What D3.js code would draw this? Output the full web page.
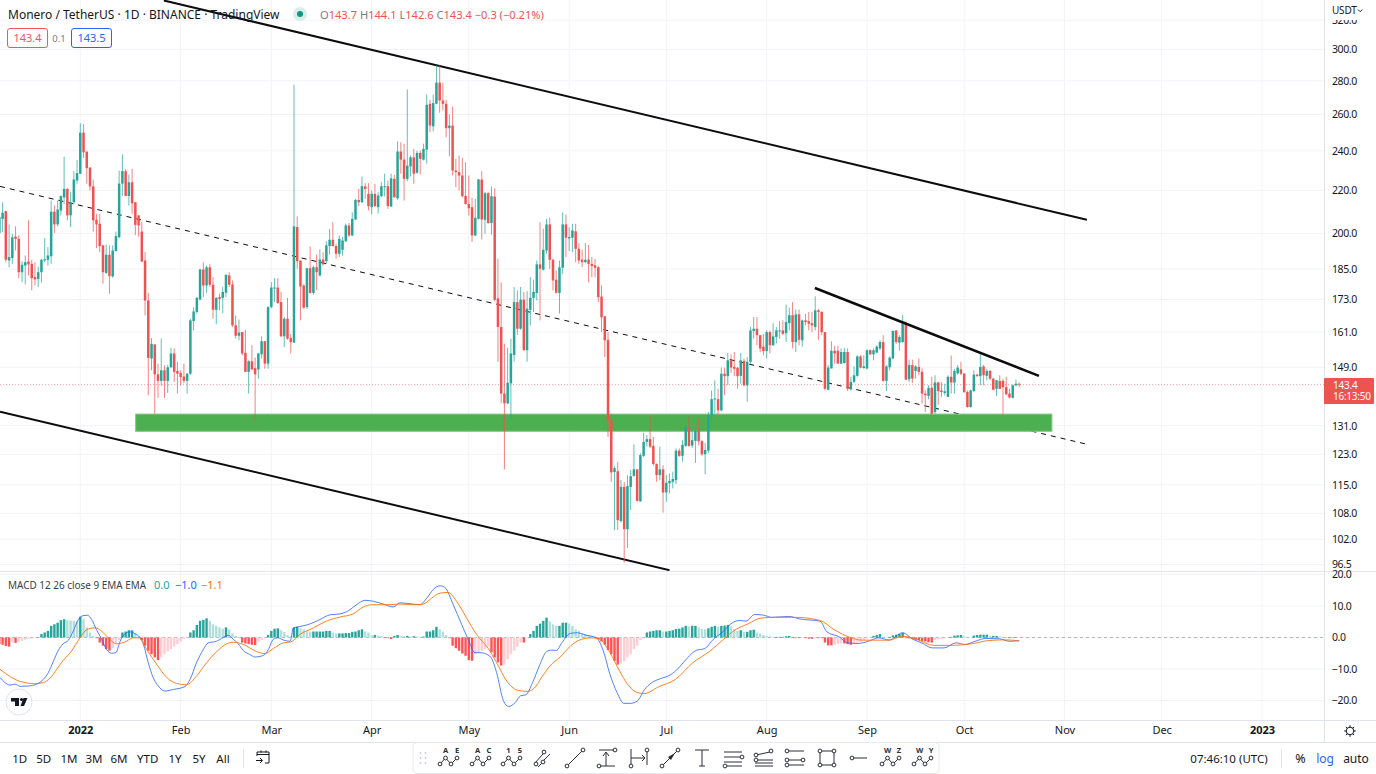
<!DOCTYPE html>
<html><head><meta charset="utf-8">
<script src="https://cdn.jsdelivr.net/npm/d3@7/dist/d3.min.js"></script>
<style>html,body{margin:0;padding:0;background:#fff;overflow:hidden}svg{display:block;font-family:"Noto Sans",sans-serif}</style>
</head><body><div id="chart"></div>
<script>
const opens=[200.2,206.6,210.1,188.5,189.5,198.7,197.7,183.7,186.4,188.1,
187.1,181.7,181,183.7,188.5,188.8,190.3,209.9,204.1,210.4,
216.6,220.7,208.2,214.3,224.8,228.2,249.8,239.6,231.3,221.9,
206.2,204.4,194.9,183.4,190.9,182,192.4,198.4,223.3,229.5,
217.3,223.9,214.3,208.2,200.9,188.5,172.6,151.9,156.7,146.7,
144.6,148,144.6,149,153.6,147.8,147.1,146,144.6,146.9,
165,168.3,173,184.8,178.4,185.7,178.7,169.1,173.9,173.6,
175.6,182.4,178.8,163.4,159.7,161,153.8,147.5,151,148.7,
148.3,153.3,157.8,150.2,170.1,177.2,177.6,172,159.5,165.8,
158.9,157.3,202.9,188.5,178.4,170.1,185.3,175.5,185.7,182.4,
188.9,188.2,194.6,197.3,194.6,191.3,193,196.7,203.6,199.2,
206.3,215.4,214.3,221.9,218.3,212,218.3,212,217.2,221.9,
222,212.3,225.6,216.2,239.6,235.4,225.6,231.9,236.6,228.7,
238.9,235.4,240.6,266.2,253.3,266.2,278.9,268.1,266.2,252.3,
253.7,229.8,229,227.3,217.3,213.5,212,199.2,206.6,225.3,
206.2,218.6,204.7,217,173.4,162.8,140.6,137.6,143.8,153.1,
172,162.2,172.9,154.7,169.1,173.6,175.5,186.9,184.7,192.7,
204.1,188.8,180.7,175.5,185.5,204.1,197.9,198.2,201,193.4,
188.9,187.8,188.9,187.1,186.5,185.7,174.1,166.7,158.3,132.6,
118.3,118.5,106.2,114.5,104.3,114.5,117.3,119,110.9,122.6,
126.4,127.2,125.3,120.4,117.5,119,113.1,115.4,115.8,116.2,
124,122.6,125.3,130.6,125.4,126.7,129.5,126.6,123,124,
134.1,138.8,138.9,135.5,146.9,146.1,151.3,149.1,148.8,146.2,
151.1,143.2,150.8,161.4,162.2,159.9,155.9,154.4,161,156.4,
159.3,161.4,161.6,160.6,164.2,167.1,157.5,167.4,158.1,165.2,
164.9,164.2,162.8,168.9,168.3,161,141.8,148.6,154.5,154.5,
150.2,150.4,154.1,141.9,144.3,146.2,152.6,148.7,148.6,154.7,
153.3,153.9,155.3,157.5,144.6,149,151.9,161.6,157.3,157.5,
164.2,145.1,149.7,147.8,149.1,147.5,140.6,139.9,142.4,135,
144.1,141.6,140.8,139.6,145.9,144.1,147,148.3,146.9,141.1,
136.5,141.4,146.6,146.1,149.3,146.2,147.8,145.3,142.1,144.6,
144.6,142.6,140.6,139.3,143.2,143.7];
const highs=[208.2,214.3,210.4,204.1,199.9,203.2,199.2,188.1,190.6,205.9,
188.8,187.8,186,189.2,198,194.1,215.1,212.7,215.1,217.6,
236.9,221.2,219.1,229.5,235.2,255,254.6,239.6,231.5,225.3,
208.9,208.9,194.9,195.2,194.9,194.9,200.9,229.8,238.2,230.6,
227.8,230.6,214.3,208.2,205.4,192,175.5,158.9,156.7,150.2,
158.7,149.6,149.8,155.5,155.3,150.8,148,150.2,147.1,165.8,
170.1,173.9,185.1,187.8,186.4,187.1,181.7,173.9,175.2,177.8,
183,183.7,180.4,167,165.5,161,161.8,151.3,156.4,152.2,
153.8,159.5,157.9,170.5,179.7,181.3,181.3,175.9,166.4,173.6,
160.4,277.6,207.7,188.5,178.8,185.3,194.4,186.4,191,193.1,
192,196.7,202.1,205.1,195.6,199.2,198.5,204.4,204.7,209.6,
215.9,220.7,226.8,223.5,223.5,219.9,223.2,219.1,224,228.2,
224.8,228.2,227.6,245,244.6,243.8,274.7,237.5,241,240.1,
240.1,243.8,271.7,268.5,271.7,289.8,289.6,278.8,268.5,260,
264.6,235.8,237.5,236.3,234,227.3,216.4,215.9,225.6,229.5,
219.1,219.1,221.9,221,189.2,179.6,156.9,155.6,158.7,177.8,
176.5,177.8,175.9,176.2,181.7,180.7,188.5,205.1,202.2,206.6,
207.1,189.2,184.4,188.5,209.6,208.6,202.9,204.4,204.4,195.9,
193,195.9,195.1,189.9,189.2,186.2,178.5,166.7,161,134.5,
119.8,121,116.2,115.7,117.5,118.8,125.7,119,123.3,129,
128.3,134.1,127.8,120.6,125.1,120.1,117.5,117.9,118.4,124.6,
124.6,126.9,131.1,133.8,129.7,130.2,133.1,126.9,126.1,135,
141.6,144.8,142.1,148.9,148.9,153.8,153.3,154.1,149.1,153.8,
151.9,152.4,162.8,166.4,166.4,159.9,160.4,161.6,161.6,164.2,
162.8,165,165.2,171.1,169.9,172,169.2,169.2,165.5,167.6,
168.3,168.3,174.2,169.5,168.6,161,149.7,157.7,156.1,156.1,
155.3,155.5,155.3,145.9,149.3,153,153,153,155,155,
155.3,156.4,158.1,159.9,149.7,152.6,161.6,161.6,159.9,167.1,
165,151.5,151.5,149.7,151.9,148.6,141.6,143.2,145.9,146.4,
144.3,144.3,143.7,146.4,152.9,148.5,149.7,150.8,147.1,141.6,
141.8,148,146.9,153.6,149.7,148.5,148.2,145.6,144.8,146.4,
145.3,145.9,142.1,143.5,145,144.1];
const lows=[198.4,200.7,187.8,185.7,187.1,192.7,181.3,179.7,178.8,182.4,
176.5,178.4,177.8,179.5,187.8,186.4,187.1,200.2,203.2,208.2,
213.5,205.9,202.9,213.2,223.2,228.2,236.3,223.2,219.9,200.9,
193.7,192,179.1,183,175.2,181.5,192.4,198,217.3,217.2,
212.7,208.9,199.4,198.7,187.8,167,140.1,148,134.5,139.3,
143,139.3,140.8,148.7,144.3,140.6,143.2,143.8,140.6,146.5,
161.6,167.7,172.6,173.9,175.5,177.8,165.8,163.8,168.9,167.9,
173.9,177.8,162.8,158.7,158.1,153,147.5,140.6,148,132.1,
145.3,151.9,148.5,148.5,169.7,172,171.4,159.3,155.8,158.3,
153.6,157.2,185.1,165.2,169.5,169.5,175.2,174.8,176.5,182,
186.4,187.1,191,194.4,189.2,189.9,190.6,196.3,198.5,198.9,
206.2,212.5,214,215.9,210.4,208.6,212,209,216.7,217,
211.2,212,216.4,215.4,228.2,215.1,224.5,226.8,223.2,228.2,
227.9,234.9,233.3,250,250.5,265.8,261,262.3,247.3,237.1,
227.3,221.6,219.9,216.7,213.2,208.2,196.3,198.9,206.3,197.4,
199.9,204.4,199.6,172.3,150.8,137.6,119,137.4,133.1,150.8,
160,161.8,154.5,150.8,163.4,168.3,172.6,165.2,184.4,191.3,
185.1,176.5,175.2,167.7,183,189.9,192.4,192,187.8,187.1,
185.7,187.5,179.7,181.7,181.7,172,161,152.4,127.8,115.8,
104.1,104.1,105.8,96.9,100.1,108.8,117.1,110.8,110.8,122.3,
125.1,124.7,120,115.8,116.2,108.2,110.8,112.9,114.1,115.2,
122.3,121,125.1,125.1,124.7,120.7,125.5,122.6,117.7,123.3,
132.1,134.5,134.1,135.2,140.1,143.2,147.1,146.1,142.1,143.7,
142.9,138.1,150.2,158.7,156.4,154.1,153,151.9,153.6,156.2,
157,158.7,159.9,157.5,161.6,155.3,154.1,156.4,155.9,163.4,
161.6,161,161.6,158.3,159.9,141.6,141.6,148.6,150.2,150.2,
150,150.2,141.4,141.6,143.9,145.9,148.6,148.6,148.3,153,
151.3,153.6,154.7,144.3,141.4,148,151.6,156.9,154.5,157.3,
144.8,144.3,143.9,145.3,146.4,137.6,135,138.8,133.8,134.5,
137.1,139.6,140.1,139.6,140.6,140.6,146.6,146.4,140.8,136.3,
136.3,141.1,145.8,143.2,143.2,144.8,144.8,141.6,139.9,142.1,
134.5,140.1,139.1,139.1,142.9,142.6];
const closes=[207.4,209.4,188.8,189.9,198.4,197.7,183.7,186.7,187.8,186.9,
181.3,180.8,183.7,188.8,189,190.6,209.9,204.1,210.9,217.2,
220.7,208.2,214.3,225.3,228.5,249.8,239.2,231,221.9,205.9,
204.1,194.6,183.7,190.9,182.1,192.7,198.9,223.3,229.5,217.3,
223.9,213.8,203.9,203.6,188.1,172.6,152.1,156.9,146.7,144.6,
148,144.6,149,153.6,147.5,146.9,145.8,144.6,146.9,165.2,
168.5,173.6,184.8,178.4,185.7,178.7,169.1,173.6,173.2,175.9,
182.6,178.7,163.4,159.7,160.8,153.6,147.5,151,148.3,146.7,
153.6,157.8,150.2,170.1,177.6,177.6,171.6,159.5,165.8,158.7,
157.5,203.2,188.2,178,169.9,185.3,175.5,185.7,183.7,188.9,
186.9,194.9,197.3,194.6,191.3,197.7,197,203.6,199.2,206.6,
215.4,214.3,222,220.7,212.5,218.3,212.5,217.5,222,222,
212.5,225.9,216.7,239.6,235.4,225.6,232.3,236.6,228.2,238.9,
235.8,241,265.6,253.7,266.6,278.9,268.1,266.2,252.3,253.7,
229.8,229,227.3,217.2,213.5,211.5,199.2,207.1,225.3,206.3,
218.6,204.7,217.2,172.9,162.8,140.6,137.6,144,153.6,172,
162.2,172.9,154.7,169.5,173.6,175.9,186.9,185.1,193,204.1,
188.8,180.4,175.6,185.7,204.1,198.2,198.5,201.4,193.4,188.5,
187.8,188.8,187.1,186.2,185.5,173.9,166.3,158.1,132.6,118.2,
119.3,106.4,114.5,104.3,114.7,117.2,119,111,122.8,126.4,
127.2,125.1,120.4,117.5,119,113.1,115.5,116,116.5,124,
122.6,125.6,130.6,125.3,126.9,129.5,126.6,123,124.2,134.1,
138.9,139.1,135.5,146.9,146.1,151.3,148.9,148.5,146.1,151.3,
143.2,150.8,161.6,162.2,159.9,155.3,154.4,161,156.4,159.5,
161.6,161.6,160.4,164.6,167.1,157.5,167.4,158.3,165.2,164.6,
164,163.4,168.9,168.3,161,142.1,148.9,154.5,153.6,150.2,
154.1,154.1,142.1,144.3,146.4,152.6,148.9,149.3,154.7,153.3,
154.7,155.9,157.5,144.6,149.3,152.2,161.4,157.5,159.3,164.2,
145,149.7,145.3,149.3,147.5,140.6,140.1,142.4,134.5,144.1,
141.4,141.1,141.3,145.9,144.1,147.8,148.9,146.9,141.1,136.5,
141.6,146.6,146.2,149.1,146.4,147.8,145.3,141.8,144.8,142.1,
142.6,140.4,139.4,143.2,143.7,143.4];
const histogram=[-2.1,-2.3,-2.7,-2.9,-1.5,-1.7,-1.3,-1.1,-0.7,-0.5,
-0.4,-0.2,0.1,1.1,1.6,2.1,3.7,4.2,4.7,5.5,
5.8,5.5,5.4,5.3,5.2,6.6,5.8,3.2,1.6,0.5,
-0.2,-1.6,-2.6,-3.7,-4.2,-3.4,-1.9,-0.8,1.6,1.9,
2.3,2.3,1.3,0.3,-0.8,-2.6,-4.2,-5.3,-6.3,-7.2,
-6.3,-5.3,-4.4,-3.7,-2.9,-2.1,-1.3,-0.5,-0.2,1.6,
2.3,4,5.3,5.6,6.1,5.3,4.2,3.7,3.2,2.8,
3.2,2.6,1.3,0.5,-0.1,-1.6,-1.9,-2.1,-2.3,-2.4,
-1.3,-0.8,-0.3,0.8,2.1,2.8,2.9,2.3,1.8,0.8,
0.3,3.2,3.4,2.9,2.6,2.1,1.9,1.9,1.9,1.9,
1.9,2.1,2.1,1.6,1.3,1.3,1.3,1.4,1.4,1.8,
1.9,2.3,2.6,1.9,1.6,0.8,0.8,0.6,0.5,-0.2,
-0.2,-0.5,0.5,0.8,0.5,0.4,0.5,0.3,0.4,0.3,
0.2,0.3,1.9,1.9,2.3,3.4,2.6,1.9,0.8,-0.2,
-2.6,-3.4,-4.2,-5.1,-5.8,-7.2,-7.4,-5.3,-4.7,-4.2,
-3.7,-2.9,-4.7,-6.3,-7.9,-8.9,-8.6,-6.9,-5.3,-4.2,
-3,-1.6,-1.6,-0.2,1.1,2.1,3.7,4.4,5.3,6.3,
5.1,4.2,3.7,3.7,4.7,4.7,4.4,3.7,2.6,2.1,
1.3,1.1,0.8,0.5,0.3,-0.5,-1.3,-2.3,-4,-5.3,
-7.4,-8.6,-8.2,-7.6,-6.3,-5.3,-3.7,-2.6,-0.8,-0.1,
1.6,1.9,2.1,2.3,2.3,1.9,1.9,2.1,2.3,2.7,
2.8,3.2,3.7,3.5,3.7,3.7,3.2,2.7,2.6,2.9,
3.4,3.7,3.5,3.7,3.8,4,3.5,2.6,2.1,2.3,
1.8,1.8,2.3,2.5,1.6,1.3,0.8,0.5,0.4,0.2,
0.2,0.2,0.2,0.4,0.5,-0.2,-0.2,-0.2,-0.1,-0.2,
-0.4,-0.4,-0.1,-0.2,-0.2,-1.6,-2.5,-2.5,-2.3,-2.1,
-1.9,-1.9,-2.1,-2.3,-1.8,-1.6,-1.5,-0.8,-0.3,-0.2,
0.5,0.8,1.1,0.2,0.1,0.2,0.7,0.9,1.1,1.5,
-0.2,-0.3,-0.4,-0.7,-0.8,-1.1,-1.3,-1.5,-1.6,-0.8,
-0.6,-0.5,-0.3,-0.1,0.2,0.6,0.7,0.8,0.5,0.2,
0.1,0.6,0.8,0.9,0.9,0.9,0.5,0.5,0.5,0.3,
0.2,-0.1,-0.2,-0.2,0.1,0];
const macdDays=[-24.8,-23.3,-21.7,-20.2,-18.6,-16.1,-13.5,-11.4,-9.9,-8.3,-6.8,-5.3,-3.7,-2.2,-0.6,0.9,2.2,3.5,5,6.6,8.1,9.7,11,12.3,13.8,15.3,16.9,18.4,19.5,21,22.5,24.1,26.1,28.7,32.3,33.9,35.9,38,39.5,42.1,43.6,45.7,47.3,48.8,50.3,52.4,53.9,56.5,58.1,59.6,61.1,62.7,64.8,65.8,67.8,70.4,74,77.1,80.2,82.8,85.3,87.9,90.5,93.6,96.7,98.7,101.3,104.9,107,109,111.1,112.6,115.2,117.8,119.8,121.9,123.4,126.5,128.6,130.7,132.3,134.4,136,137.6,139.7,141.8,144,145.6,147.1,148.7,151.4,153.5,156.2,159.4,161.5,163.6,165.8,167.9,170,172.1,174.3,176.4,179.1,182.2,184.9,187.6,190.2,192.9,195.5,198.7,200.9,203.5,205.6,208.3,211,213.6,218.9,222.1,228.5,230.6,234.4,237,240.2,243.4,246.6,249.8,254,257.2,259.9,263.1,266.8,270.5,273.2,276.4,279.6,283.8,287,290];
const macdValues=[-12.7,-14.3,-15.1,-14.8,-15.5,-15.4,-14.8,-13.3,-11.2,-7.5,-4.1,-2,-0.9,2,5.7,6.95,7.05,5.7,2.5,-0.6,-3.8,-5,-4.8,-1.2,1.2,1.8,1.2,0,-2.2,-8,-12.7,-15.4,-17,-16.5,-15.6,-13.3,-8,-3.8,-1.7,-1.2,-0.3,0.7,-0.6,-2,-4.1,-5.4,-6.2,-5.7,-3.8,-0.6,-0.1,-0.8,-1.2,3,3.5,4.1,5.7,7.2,7.5,8.5,10.4,11.8,11.5,10.6,9.7,11,10.8,10.4,12.5,15.2,16.4,15.9,10.4,4.1,-0.6,-4.8,-4.8,-5.9,-11.2,-20.1,-21.9,-20.6,-18.5,-18.2,-14.3,-9,-4.5,-4,-4.1,-1.7,1.3,1.5,0.75,-0.1,-4.1,-11.7,-17.5,-20.9,-20.9,-20.1,-16.5,-14.4,-13.1,-11.9,-9.6,-6.4,-4.1,-3.5,-0.6,2,4.3,5.4,5.2,7.3,7.1,6.4,6.7,5.9,5.2,1.8,0.2,-1.7,-1.9,-1.2,-0.1,-0.8,1.5,-0.6,-1.7,-3.3,-3.3,-1.7,-2.2,-1.2,-0.3,-0.4,-1.2,-1];
const signalDays=[-24.8,-22.7,-19.7,-16.6,-14,-11.4,-9.4,-7.3,-5.3,-2.7,-0.1,2,4.5,6.6,8.6,11.2,13.8,16.4,18.4,20.5,23.6,26.7,29.8,32.8,35.9,39,42.1,45.2,47.3,50.3,54.5,57,59.6,62.7,65,67.8,72,76,80.2,84.3,87.4,90,94.6,98.7,102.8,105.9,108.5,111.1,113.6,116.2,119.3,122.4,126,128.6,131.7,134.9,138.1,140.2,142.4,145,148.2,151.4,154.1,157.8,160.4,163.6,166.3,169,172.1,174.3,178.5,183.8,189.2,194.5,198.7,202.4,206.2,210.4,214.7,221,228.5,232.8,238.1,241.3,245.5,249.8,254,258.3,263.6,268.9,275.3,280.6,285.9,290];
const signalValues=[-10.1,-11.7,-13.5,-14.4,-14.7,-14.3,-13,-10.1,-7.3,-4.3,-0.1,2.5,3.05,2,-0.1,-2,-1.4,-0.1,-0.1,-3.8,-8.5,-12.7,-14.6,-15,-12.2,-8,-4.5,-2,-1.5,-2.2,-4.5,-5.1,-3.5,-1.7,-1.4,0.95,3.05,5.2,6.5,7.5,9.7,10.4,10.4,10.6,10.4,10.6,12.5,14.1,14.3,11.5,6.2,0.95,-3.5,-8,-13.8,-16.7,-17.1,-16.1,-12.8,-9.1,-6.2,-2.7,-0.85,-0.1,-0.6,-4.8,-10.1,-14.8,-17.5,-17.8,-15.7,-13.3,-8,-4.3,-0.6,2.5,4.3,6.2,6.4,6.4,5.4,2.5,-0.1,-0.85,-0.85,-0.85,0.4,-0.6,-2.5,-2.5,-2,-0.95,-0.75,-1.1];
const priceTicks=[320,300,280,260,240,220,200,185,173,161,149,131,123,115,108,102,96.5];
const macdTicks=[20,10,0,-10,-20];
const macdTickLabels=["20.0","10.0","0.0","\u221210.0","\u221220.0"];
const monthTicks=[[2022,0],[2022,1],[2022,2],[2022,3],[2022,4],[2022,5],[2022,6],[2022,7],[2022,8],[2022,9],[2022,10],[2022,11],[2023,0]];
const rangeLabels=["1D","5D","1M","3M","6M","YTD","1Y","5Y","All"];
const lastPrice=143.4;
// drawings: [days since 2022-01-01, price]
const upperChannel=[[25.8,334.2],[310.9,206.2]];
const lowerChannel=[[-24.8,135.1],[182,95.3]];
const midChannel=[[-24.8,221.9],[311.2,125.7]];
const wedgeLine=[[226.9,177.4],[296.1,146.2]];
const supportZone={days:[17.1,300.1],prices:[134.4,129.4]};

const W=1376,H=774,paneR=1324,paneB=571,macdB=720,axisB=742;
const GREEN="#26a69a",RED="#ef5350",TXT="#131722";
const jan1=Date.UTC(2022,0,1), DAY=864e5;
const dayDate=d=>new Date(jan1+d*DAY);
const firstCandle=new Date(Date.UTC(2021,11,7));
const x=d3.scaleUtc().domain([new Date(jan1),new Date(Date.UTC(2023,0,1))]).range([80.3,1262]);
const y=d3.scaleLog().domain([96.5,300]).range([564.5,49.5]);
const ym=d3.scaleLinear().domain([-20,20]).range([700.5,574.5]);
const svg=d3.select("#chart").append("svg").attr("width",W).attr("height",H).attr("viewBox",`0 0 ${W} ${H}`);
const defs=svg.append("defs");
defs.append("clipPath").attr("id","cp").append("rect").attr("width",paneR).attr("height",paneB);
defs.append("clipPath").attr("id","cm").append("rect").attr("y",paneB+1).attr("width",paneR).attr("height",macdB-paneB-1);
svg.append("rect").attr("width",W).attr("height",H).attr("fill","#fff");
const GRID="#f1f3f8";
const months=monthTicks.map(m=>new Date(Date.UTC(m[0],m[1],1)));
// grids
const grid=svg.append("g");
grid.selectAll("line.v").data(months).join("line").attr("x1",d=>x(d)).attr("x2",d=>x(d)).attr("y1",0).attr("y2",macdB).attr("stroke",GRID);
grid.selectAll("line.h").data(priceTicks).join("line").attr("class","h").attr("x1",0).attr("x2",paneR).attr("y1",d=>y(d)).attr("y2",d=>y(d)).attr("stroke",GRID);
grid.selectAll("line.m").data(macdTicks).join("line").attr("class","m").attr("x1",0).attr("x2",paneR).attr("y1",d=>ym(d)).attr("y2",d=>ym(d)).attr("stroke",GRID);

const pane=svg.append("g").attr("clip-path","url(#cp)");
const seg=(g,pts,w,dash)=>g.append("line").attr("x1",x(dayDate(pts[0][0]))).attr("y1",y(pts[0][1])).attr("x2",x(dayDate(pts[1][0]))).attr("y2",y(pts[1][1])).attr("stroke","#0c0c0c").attr("stroke-width",w).attr("stroke-dasharray",dash||null);
seg(pane,midChannel,1,"5,5");
pane.append("rect").attr("x",x(dayDate(supportZone.days[0]))).attr("y",y(supportZone.prices[0])).attr("width",x(dayDate(supportZone.days[1]))-x(dayDate(supportZone.days[0]))).attr("height",y(supportZone.prices[1])-y(supportZone.prices[0])).attr("fill","#4caf50").attr("stroke","#81c784").attr("stroke-width",1);
seg(pane,upperChannel,2);
seg(pane,lowerChannel,2);
// last price line
pane.append("line").attr("x1",0).attr("x2",paneR).attr("y1",y(lastPrice)).attr("y2",y(lastPrice)).attr("stroke",RED).attr("stroke-opacity",.55).attr("stroke-dasharray","1,2");
// candles
const candles=closes.map((c,i)=>({date:d3.utcDay.offset(firstCandle,i),o:opens[i],h:highs[i],l:lows[i],c}));
const cg=pane.append("g");
cg.selectAll("line").data(candles).join("line").attr("x1",d=>x(d.date)).attr("x2",d=>x(d.date)).attr("y1",d=>y(d.h)).attr("y2",d=>y(d.l)).attr("stroke",d=>d.c>=d.o?GREEN:RED).attr("stroke-width",1).attr("stroke-opacity",.72);
cg.selectAll("rect").data(candles).join("rect").attr("x",d=>x(d.date)-1.25).attr("width",2.5).attr("y",d=>y(Math.max(d.o,d.c))).attr("height",d=>Math.max(1,Math.abs(y(d.o)-y(d.c)))).attr("fill",d=>d.c>=d.o?GREEN:RED);
seg(pane,wedgeLine,2.6);

// MACD pane
const mp=svg.append("g").attr("clip-path","url(#cm)");
mp.append("line").attr("x1",0).attr("x2",paneR).attr("y1",ym(0)).attr("y2",ym(0)).attr("stroke","#b2b5be").attr("stroke-dasharray","3,3");
const hData=histogram.map((v,i)=>({date:d3.utcDay.offset(firstCandle,i),v,prev:i?histogram[i-1]:v}));
const hc=d=>d.v>=0?(d.v>=d.prev?"#26a69a":"#b2dfdb"):(d.v<=d.prev?"#ff5252":"#ffcdd2");
mp.selectAll("rect").data(hData).join("rect").attr("x",d=>x(d.date)-1.2).attr("width",2.4).attr("y",d=>Math.min(ym(d.v),ym(0))).attr("height",d=>Math.abs(ym(d.v)-ym(0))).attr("fill",hc);
const ln=d3.line().x(d=>x(dayDate(d[0]))).y(d=>ym(d[1])).curve(d3.curveMonotoneX);
mp.append("path").attr("d",ln(d3.zip(macdDays,macdValues))).attr("fill","none").attr("stroke","#2962ff").attr("stroke-opacity",.8).attr("stroke-width",1);
mp.append("path").attr("d",ln(d3.zip(signalDays,signalValues))).attr("fill","none").attr("stroke","#ff6d00").attr("stroke-opacity",.85).attr("stroke-width",1);

// structural lines
const LINE="#e0e3eb";
const rule=(x1,y1,x2,y2,c)=>svg.append("line").attr("x1",x1).attr("y1",y1).attr("x2",x2).attr("y2",y2).attr("stroke",c||LINE);
rule(0,paneB+.5,W,paneB+.5,"#e6e4f2");
rule(0,macdB+.5,W,macdB+.5);
rule(0,axisB+.5,W,axisB+.5);
rule(paneR+.5,0,paneR+.5,axisB);

// axes
const FS=10.5;
const ya=svg.append("g").attr("transform",`translate(${paneR+8},0)`).call(d3.axisRight(y).tickValues(priceTicks).tickSize(0).tickPadding(0).tickFormat(d=>d.toFixed(1)));
ya.select(".domain").remove();
ya.selectAll("text").attr("fill",TXT).attr("font-size",FS).attr("letter-spacing",-.4).attr("font-family",'"Noto Sans"');
const ma=svg.append("g").attr("transform",`translate(${paneR+8},0)`).call(d3.axisRight(ym).tickValues(macdTicks).tickSize(0).tickPadding(0).tickFormat((d,i)=>macdTickLabels[i]));
ma.select(".domain").remove();
ma.selectAll("text").attr("fill",TXT).attr("font-size",FS).attr("letter-spacing",-.4).attr("font-family",'"Noto Sans"');
const xa=svg.append("g").attr("transform",`translate(0,${macdB+4})`).call(d3.axisBottom(x).tickValues(months).tickSize(0).tickPadding(2).tickFormat(d=>d.getUTCMonth()===0?d.getUTCFullYear():d3.utcFormat("%b")(d)));
xa.select(".domain").remove();
xa.selectAll("text").attr("fill",TXT).attr("font-size",11).attr("font-family",'"Noto Sans"').attr("font-weight",d=>d.getUTCMonth()===0?700:400);

const T=(s,px,py,o={})=>svg.append("text").attr("x",px).attr("y",py).attr("fill",o.c||TXT).attr("font-size",o.fs||11).attr("text-anchor",o.a||"start").attr("font-weight",o.w||400).attr("letter-spacing",o.ls||null).text(s);
// USDT unit box covers most of the 320.0 label, as in the reference
svg.append("rect").attr("x",paneR+2).attr("y",2).attr("width",W-paneR-3).attr("height",18).attr("fill","#fff");
T("USDT",1332,14,{fs:10,ls:-.2});
svg.append("path").attr("d","M1358 9.5l2.2 2.2 2.2-2.2").attr("fill","none").attr("stroke",TXT);
// last price badge
svg.append("rect").attr("x",paneR).attr("y",378).attr("width",50).attr("height",26).attr("rx",1).attr("fill",RED);
T("143.4",1333,389,{c:"#fff",fs:10,ls:-.2});
T("16:13:50",1333,400,{c:"#fff",fs:10,ls:-.25});

// header
T("Monero / TetherUS \u00b7 1D \u00b7 BINANCE \u00b7 TradingView",8,19,{fs:12});
svg.append("circle").attr("cx",300).attr("cy",14).attr("r",7).attr("fill","#d8efec");
svg.append("circle").attr("cx",300).attr("cy",14).attr("r",3).attr("fill","#089981");
const ohlc=svg.append("text").attr("x",320).attr("y",19).attr("font-size",11.1);
[["O","#787b86"],["143.7",RED],[" H","#787b86"],["144.1",RED],[" L","#787b86"],["142.6",RED],[" C","#787b86"],["143.4",RED],[" \u22120.3 (\u22120.21%)",RED]].forEach(p=>ohlc.append("tspan").attr("fill",p[1]).style("white-space","pre").text(p[0]));
const box=(bx,w,c,s)=>{svg.append("rect").attr("x",bx+.5).attr("y",28.5).attr("width",w).attr("height",19).attr("rx",2.5).attr("fill","#fff").attr("stroke",c);T(s,bx+w/2+.5,42,{c,a:"middle",fs:11});};
box(7,40,"#f7525f","143.4");
T("0.1",59,42,{c:"#787b86",a:"middle",fs:9.5});
box(71,40,"#2962ff","143.5");
// MACD legend
T("MACD 12 26 close 9 EMA EMA",8,589,{fs:9.95,c:"#3b3f4a"});
T("0.0",154,589,{fs:11,c:"#26a69a"});
T("\u22121.0",175,589,{fs:11,c:"#2962ff"});
T("\u22121.1",201,589,{fs:11,c:"#ff6d00"});
// logo
svg.append("circle").attr("cx",19).attr("cy",702).attr("r",13).attr("fill","#fff").attr("stroke","#e0e3eb");
svg.append("path").attr("d","M11 698h8v8h-4v-4.5h-4z M20.5 706l3-8h4l-3.5 8z").attr("fill","#131722");
svg.append("circle").attr("cx",21.5).attr("cy",699.5).attr("r",1.6).attr("fill","#131722");
// gear
const gear=svg.append("g").attr("transform","translate(1350,731)").attr("fill","none").attr("stroke",TXT);
gear.append("circle").attr("r",3.8);
d3.range(8).forEach(i=>{const a=i*Math.PI/4;gear.append("line").attr("x1",3.8*Math.cos(a)).attr("y1",3.8*Math.sin(a)).attr("x2",5.8*Math.cos(a)).attr("y2",5.8*Math.sin(a));});
// bottom left
[19.7,43.7,69,94,119,147.7,175,199,223].forEach((cx,i)=>T(rangeLabels[i],cx,763,{a:"middle",fs:11.5}));
rule(243.5,749,243.5,768);
const cal=svg.append("g").attr("transform","translate(263,758)").attr("fill","none").attr("stroke",TXT);
cal.append("path").attr("d","M-6 -2v-4h12v11h-4 M-6 -3.5h12 M-2 -7.5v2 M3 -7.5v2");
cal.append("path").attr("d","M-7 2.5h6 M-3 0l2.5 2.5-2.5 2.5");
// bottom right
T("07:46:10 (UTC)",1229,763,{a:"middle",fs:11.5});
rule(1281.5,749,1281.5,768);
T("%",1300.5,763,{a:"middle",fs:12.5});
T("log",1325,763,{a:"middle",fs:12,c:"#2962ff"});
T("auto",1356,763,{a:"middle",fs:12});
// drawing toolbar
svg.append("rect").attr("x",413).attr("y",742.5).attr("width",526).attr("height",31).attr("rx",4).attr("fill","#fff").attr("stroke","#e8eaf0");
const grip=svg.append("g").attr("fill","#c8cbd4");
d3.cross([420.5,425.5],[753,758,763]).forEach(p=>grip.append("circle").attr("cx",p[0]).attr("cy",p[1]).attr("r",.9));
const IC="#2a2e39";
const icon=(cx,fn)=>{const g=svg.append("g").attr("transform",`translate(${cx},758)`).attr("fill","none").attr("stroke",IC);
 const L=(...p)=>g.append("polyline").attr("points",p.join(" "));
 const N=(a,b)=>g.append("circle").attr("cx",a).attr("cy",b).attr("r",1.9).attr("fill","#fff");
 const S=(s,a,b)=>g.append("text").attr("x",a).attr("y",b).attr("text-anchor","middle").attr("font-size",7.5).attr("font-weight",700).attr("fill",IC).attr("stroke","none").text(s);
 fn(L,N,S);};
const zig=(a,b)=>(L,N,S)=>{L("-9,6","-3.5,0","2,6","8,0");N(-9,6);N(-3.5,0);N(2,6);N(8,0);S(a,-3.5,-5);S(b,8,-5);};
[[449,"A","E"],[481,"A","C"],[512,"1","5"],[891,"W","Z"],[923,"W","Y"]].forEach(d=>icon(d[0],zig(d[1],d[2])));
icon(544,(L,N)=>{L("-9,5","-1,-4");L("-1,3","6,-4");L("-6,9","0,3");N(-8,6);N(0,-6);N(-1,4);});
icon(575,(L,N)=>{L("-7,7","7,-7");N(-8,8);N(8,-8);});
icon(607,(L,N)=>{L("-8,-8","7,-8");L("-7,8","8,8");L("-1,8","-1,-5");L("-4,-2","-1,-6","2,-2");N(8,-8);N(-8,8);});
icon(639,(L,N)=>{L("-8,-9","-8,7");L("8,-9","8,7");L("-8,0","6,0");L("3,-3","6,0","3,3");N(-8,8);N(8,-8);});
icon(670,(L,N,S)=>{L("-7,7","7,-7");g0(670);N(-8,8);N(8,-8);});
function g0(cx){svg.append("path").attr("transform",`translate(${cx},758)`).attr("d","M-2 -1L5 -5L1 2Z").attr("fill",IC);}
icon(702,(L)=>{L("-7,-8","7,-8");L("0,-8","0,8");L("-3,8","3,8");});
icon(733,(L,N)=>{L("-9,-6","9,-6");L("-9,-1","7,-1");L("-9,4","9,4");L("-6,8","9,8");N(9,-1);N(-8,8);});
icon(764,(L,N)=>{L("-8,-3","6,-6");L("-9,2","9,2");L("-9,5","9,5");L("-9,8","9,8");N(-8,-3);N(7,-7);N(-8,2);});
icon(795,(L,N)=>{L("-7,-7","9,-7");L("-7,2","9,2");L("-7,7","9,7");N(-8,-7);N(-8,2);N(-8,7);N(8,2);});
icon(827,(L,N)=>{L("-7,-7","7,-7","7,7","-7,7","-7,-7");N(-7,-7);N(7,-7);N(7,7);N(-7,7);});
icon(859,(L,N)=>{L("-6,0","8,0");N(-7,0);});
</script></body></html>
